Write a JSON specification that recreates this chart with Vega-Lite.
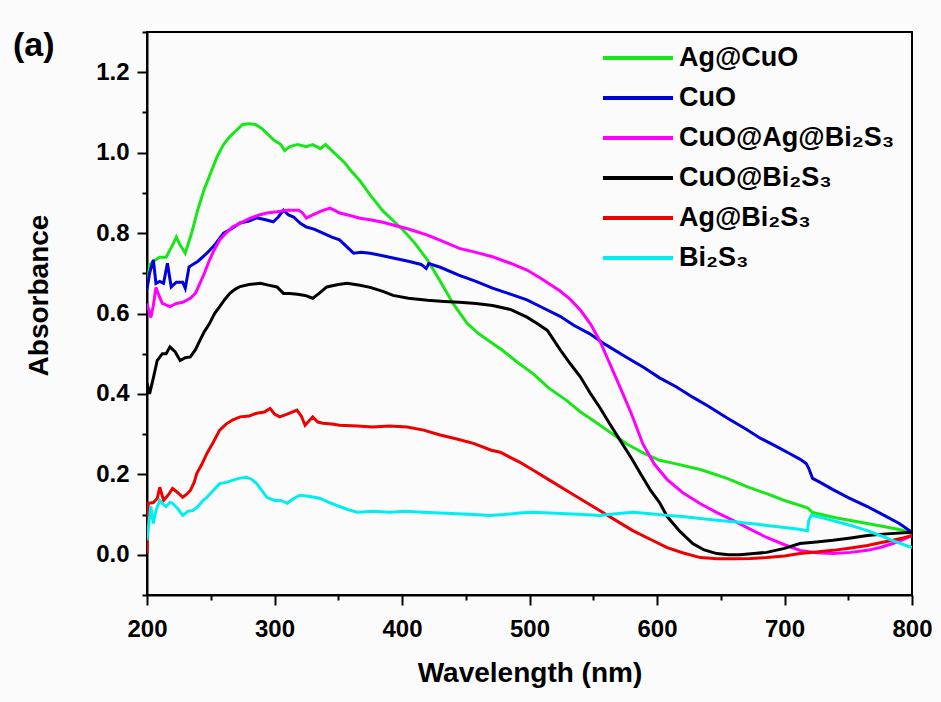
{
  "$schema": "https://vega.github.io/schema/vega-lite/v6.json",
  "width": 765,
  "height": 563,
  "autosize": {"type": "none"},
  "padding": {"left": 147, "top": 32, "right": 29, "bottom": 107},
  "background": "#fbfbfb",
  "title": {"text": "(a)", "anchor": "start", "frame": "group", "fontSize": 34, "font": "Liberation Sans", "fontWeight": "bold", "dx": -134, "dy": 59, "offset": 0, "baseline": "alphabetic", "color": "black"},
  "config": {
    "view": {"stroke": "black", "strokeWidth": 2},
    "axis": {"domainColor": "black", "domainWidth": 2, "tickColor": "black", "tickWidth": 2, "labelColor": "black", "titleColor": "black", "labelFont": "Liberation Sans", "titleFont": "Liberation Sans", "labelFontWeight": "bold", "titleFontWeight": "bold", "labelFontSize": 24, "titleFontSize": 28, "grid": false}
  },
  "data": {"values": [
    {"s":"Ag@CuO","w":200,"a":0.66},{"s":"Ag@CuO","w":202,"a":0.72},{"s":"Ag@CuO","w":205,"a":0.73},{"s":"Ag@CuO","w":210,"a":0.74},{"s":"Ag@CuO","w":215,"a":0.74},{"s":"Ag@CuO","w":220,"a":0.77},{"s":"Ag@CuO","w":223,"a":0.79},{"s":"Ag@CuO","w":226,"a":0.77},{"s":"Ag@CuO","w":230,"a":0.75},{"s":"Ag@CuO","w":235,"a":0.80},{"s":"Ag@CuO","w":240,"a":0.86},{"s":"Ag@CuO","w":245,"a":0.91},{"s":"Ag@CuO","w":250,"a":0.95},{"s":"Ag@CuO","w":255,"a":0.99},{"s":"Ag@CuO","w":260,"a":1.02},{"s":"Ag@CuO","w":265,"a":1.04},{"s":"Ag@CuO","w":270,"a":1.055},{"s":"Ag@CuO","w":275,"a":1.07},{"s":"Ag@CuO","w":280,"a":1.072},{"s":"Ag@CuO","w":285,"a":1.07},{"s":"Ag@CuO","w":290,"a":1.06},{"s":"Ag@CuO","w":295,"a":1.045},{"s":"Ag@CuO","w":300,"a":1.03},{"s":"Ag@CuO","w":305,"a":1.02},{"s":"Ag@CuO","w":308,"a":1.005},{"s":"Ag@CuO","w":312,"a":1.015},{"s":"Ag@CuO","w":318,"a":1.02},{"s":"Ag@CuO","w":325,"a":1.015},{"s":"Ag@CuO","w":330,"a":1.02},{"s":"Ag@CuO","w":336,"a":1.01},{"s":"Ag@CuO","w":340,"a":1.02},{"s":"Ag@CuO","w":345,"a":1.005},{"s":"Ag@CuO","w":350,"a":0.99},{"s":"Ag@CuO","w":355,"a":0.975},{"s":"Ag@CuO","w":360,"a":0.955},{"s":"Ag@CuO","w":367,"a":0.93},{"s":"Ag@CuO","w":375,"a":0.895},{"s":"Ag@CuO","w":385,"a":0.855},{"s":"Ag@CuO","w":395,"a":0.825},{"s":"Ag@CuO","w":401,"a":0.807},{"s":"Ag@CuO","w":410,"a":0.775},{"s":"Ag@CuO","w":420,"a":0.733},{"s":"Ag@CuO","w":430,"a":0.68},{"s":"Ag@CuO","w":440,"a":0.625},{"s":"Ag@CuO","w":451,"a":0.576},{"s":"Ag@CuO","w":460,"a":0.55},{"s":"Ag@CuO","w":470,"a":0.528},{"s":"Ag@CuO","w":479,"a":0.508},{"s":"Ag@CuO","w":490,"a":0.48},{"s":"Ag@CuO","w":503,"a":0.45},{"s":"Ag@CuO","w":515,"a":0.415},{"s":"Ag@CuO","w":529,"a":0.384},{"s":"Ag@CuO","w":540,"a":0.355},{"s":"Ag@CuO","w":550,"a":0.334},{"s":"Ag@CuO","w":563,"a":0.305},{"s":"Ag@CuO","w":576,"a":0.276},{"s":"Ag@CuO","w":590,"a":0.252},{"s":"Ag@CuO","w":602,"a":0.235},{"s":"Ag@CuO","w":615,"a":0.226},{"s":"Ag@CuO","w":634,"a":0.212},{"s":"Ag@CuO","w":655,"a":0.19},{"s":"Ag@CuO","w":670,"a":0.17},{"s":"Ag@CuO","w":686,"a":0.152},{"s":"Ag@CuO","w":700,"a":0.135},{"s":"Ag@CuO","w":718,"a":0.117},{"s":"Ag@CuO","w":722,"a":0.105},{"s":"Ag@CuO","w":740,"a":0.092},{"s":"Ag@CuO","w":765,"a":0.078},{"s":"Ag@CuO","w":785,"a":0.066},{"s":"Ag@CuO","w":800,"a":0.056},

    {"s":"CuO","w":200,"a":0.66},{"s":"CuO","w":202,"a":0.70},{"s":"CuO","w":205,"a":0.733},{"s":"CuO","w":207,"a":0.675},{"s":"CuO","w":210,"a":0.68},{"s":"CuO","w":213,"a":0.675},{"s":"CuO","w":216,"a":0.725},{"s":"CuO","w":219,"a":0.666},{"s":"CuO","w":223,"a":0.678},{"s":"CuO","w":228,"a":0.678},{"s":"CuO","w":230,"a":0.663},{"s":"CuO","w":233,"a":0.716},{"s":"CuO","w":240,"a":0.73},{"s":"CuO","w":247,"a":0.75},{"s":"CuO","w":253,"a":0.77},{"s":"CuO","w":260,"a":0.80},{"s":"CuO","w":266,"a":0.81},{"s":"CuO","w":273,"a":0.825},{"s":"CuO","w":280,"a":0.83},{"s":"CuO","w":286,"a":0.838},{"s":"CuO","w":293,"a":0.833},{"s":"CuO","w":299,"a":0.828},{"s":"CuO","w":303,"a":0.84},{"s":"CuO","w":307,"a":0.857},{"s":"CuO","w":311,"a":0.845},{"s":"CuO","w":315,"a":0.84},{"s":"CuO","w":320,"a":0.825},{"s":"CuO","w":325,"a":0.815},{"s":"CuO","w":331,"a":0.81},{"s":"CuO","w":338,"a":0.80},{"s":"CuO","w":345,"a":0.79},{"s":"CuO","w":351,"a":0.783},{"s":"CuO","w":357,"a":0.765},{"s":"CuO","w":362,"a":0.75},{"s":"CuO","w":368,"a":0.752},{"s":"CuO","w":375,"a":0.75},{"s":"CuO","w":383,"a":0.745},{"s":"CuO","w":393,"a":0.738},{"s":"CuO","w":405,"a":0.73},{"s":"CuO","w":415,"a":0.722},{"s":"CuO","w":419,"a":0.712},{"s":"CuO","w":421,"a":0.724},{"s":"CuO","w":430,"a":0.715},{"s":"CuO","w":445,"a":0.695},{"s":"CuO","w":458,"a":0.68},{"s":"CuO","w":471,"a":0.663},{"s":"CuO","w":485,"a":0.648},{"s":"CuO","w":498,"a":0.634},{"s":"CuO","w":510,"a":0.615},{"s":"CuO","w":524,"a":0.593},{"s":"CuO","w":535,"a":0.57},{"s":"CuO","w":547,"a":0.55},{"s":"CuO","w":560,"a":0.522},{"s":"CuO","w":576,"a":0.491},{"s":"CuO","w":590,"a":0.465},{"s":"CuO","w":602,"a":0.44},{"s":"CuO","w":615,"a":0.418},{"s":"CuO","w":628,"a":0.392},{"s":"CuO","w":640,"a":0.37},{"s":"CuO","w":655,"a":0.34},{"s":"CuO","w":670,"a":0.312},{"s":"CuO","w":681,"a":0.29},{"s":"CuO","w":695,"a":0.267},{"s":"CuO","w":705,"a":0.25},{"s":"CuO","w":712,"a":0.238},{"s":"CuO","w":717,"a":0.227},{"s":"CuO","w":719,"a":0.215},{"s":"CuO","w":722,"a":0.19},{"s":"CuO","w":728,"a":0.18},{"s":"CuO","w":738,"a":0.162},{"s":"CuO","w":750,"a":0.142},{"s":"CuO","w":765,"a":0.12},{"s":"CuO","w":780,"a":0.095},{"s":"CuO","w":790,"a":0.078},{"s":"CuO","w":800,"a":0.056},

    {"s":"CuO@Ag@Bi₂S₃","w":200,"a":0.625},{"s":"CuO@Ag@Bi₂S₃","w":203,"a":0.59},{"s":"CuO@Ag@Bi₂S₃","w":205,"a":0.62},{"s":"CuO@Ag@Bi₂S₃","w":207,"a":0.665},{"s":"CuO@Ag@Bi₂S₃","w":210,"a":0.64},{"s":"CuO@Ag@Bi₂S₃","w":212,"a":0.625},{"s":"CuO@Ag@Bi₂S₃","w":218,"a":0.617},{"s":"CuO@Ag@Bi₂S₃","w":223,"a":0.625},{"s":"CuO@Ag@Bi₂S₃","w":228,"a":0.628},{"s":"CuO@Ag@Bi₂S₃","w":234,"a":0.638},{"s":"CuO@Ag@Bi₂S₃","w":238,"a":0.65},{"s":"CuO@Ag@Bi₂S₃","w":241.5,"a":0.675},{"s":"CuO@Ag@Bi₂S₃","w":245,"a":0.70},{"s":"CuO@Ag@Bi₂S₃","w":249,"a":0.733},{"s":"CuO@Ag@Bi₂S₃","w":253,"a":0.76},{"s":"CuO@Ag@Bi₂S₃","w":257,"a":0.783},{"s":"CuO@Ag@Bi₂S₃","w":262,"a":0.80},{"s":"CuO@Ag@Bi₂S₃","w":267,"a":0.815},{"s":"CuO@Ag@Bi₂S₃","w":274,"a":0.826},{"s":"CuO@Ag@Bi₂S₃","w":281,"a":0.837},{"s":"CuO@Ag@Bi₂S₃","w":288,"a":0.845},{"s":"CuO@Ag@Bi₂S₃","w":294,"a":0.85},{"s":"CuO@Ag@Bi₂S₃","w":302,"a":0.853},{"s":"CuO@Ag@Bi₂S₃","w":310,"a":0.857},{"s":"CuO@Ag@Bi₂S₃","w":319,"a":0.857},{"s":"CuO@Ag@Bi₂S₃","w":322,"a":0.85},{"s":"CuO@Ag@Bi₂S₃","w":325,"a":0.837},{"s":"CuO@Ag@Bi₂S₃","w":330,"a":0.845},{"s":"CuO@Ag@Bi₂S₃","w":337,"a":0.855},{"s":"CuO@Ag@Bi₂S₃","w":343.5,"a":0.862},{"s":"CuO@Ag@Bi₂S₃","w":348,"a":0.855},{"s":"CuO@Ag@Bi₂S₃","w":351,"a":0.85},{"s":"CuO@Ag@Bi₂S₃","w":360,"a":0.843},{"s":"CuO@Ag@Bi₂S₃","w":367,"a":0.837},{"s":"CuO@Ag@Bi₂S₃","w":375,"a":0.833},{"s":"CuO@Ag@Bi₂S₃","w":385,"a":0.827},{"s":"CuO@Ag@Bi₂S₃","w":393,"a":0.82},{"s":"CuO@Ag@Bi₂S₃","w":405,"a":0.81},{"s":"CuO@Ag@Bi₂S₃","w":420,"a":0.795},{"s":"CuO@Ag@Bi₂S₃","w":433,"a":0.778},{"s":"CuO@Ag@Bi₂S₃","w":445,"a":0.762},{"s":"CuO@Ag@Bi₂S₃","w":458,"a":0.752},{"s":"CuO@Ag@Bi₂S₃","w":471,"a":0.741},{"s":"CuO@Ag@Bi₂S₃","w":485,"a":0.725},{"s":"CuO@Ag@Bi₂S₃","w":498,"a":0.708},{"s":"CuO@Ag@Bi₂S₃","w":510,"a":0.685},{"s":"CuO@Ag@Bi₂S₃","w":524,"a":0.656},{"s":"CuO@Ag@Bi₂S₃","w":532,"a":0.635},{"s":"CuO@Ag@Bi₂S₃","w":540,"a":0.608},{"s":"CuO@Ag@Bi₂S₃","w":548,"a":0.573},{"s":"CuO@Ag@Bi₂S₃","w":555,"a":0.533},{"s":"CuO@Ag@Bi₂S₃","w":563,"a":0.475},{"s":"CuO@Ag@Bi₂S₃","w":571,"a":0.417},{"s":"CuO@Ag@Bi₂S₃","w":580,"a":0.35},{"s":"CuO@Ag@Bi₂S₃","w":589,"a":0.275},{"s":"CuO@Ag@Bi₂S₃","w":598,"a":0.225},{"s":"CuO@Ag@Bi₂S₃","w":608,"a":0.187},{"s":"CuO@Ag@Bi₂S₃","w":620,"a":0.155},{"s":"CuO@Ag@Bi₂S₃","w":634,"a":0.127},{"s":"CuO@Ag@Bi₂S₃","w":647,"a":0.105},{"s":"CuO@Ag@Bi₂S₃","w":660,"a":0.085},{"s":"CuO@Ag@Bi₂S₃","w":673,"a":0.064},{"s":"CuO@Ag@Bi₂S₃","w":686,"a":0.043},{"s":"CuO@Ag@Bi₂S₃","w":700,"a":0.025},{"s":"CuO@Ag@Bi₂S₃","w":712,"a":0.011},{"s":"CuO@Ag@Bi₂S₃","w":725,"a":0.005},{"s":"CuO@Ag@Bi₂S₃","w":738,"a":0.003},{"s":"CuO@Ag@Bi₂S₃","w":752,"a":0.006},{"s":"CuO@Ag@Bi₂S₃","w":765,"a":0.011},{"s":"CuO@Ag@Bi₂S₃","w":775,"a":0.018},{"s":"CuO@Ag@Bi₂S₃","w":785,"a":0.028},{"s":"CuO@Ag@Bi₂S₃","w":793,"a":0.038},{"s":"CuO@Ag@Bi₂S₃","w":800,"a":0.048},

    {"s":"CuO@Bi₂S₃","w":200,"a":0.427},{"s":"CuO@Bi₂S₃","w":202,"a":0.40},{"s":"CuO@Bi₂S₃","w":205,"a":0.44},{"s":"CuO@Bi₂S₃","w":208,"a":0.483},{"s":"CuO@Bi₂S₃","w":212,"a":0.50},{"s":"CuO@Bi₂S₃","w":215,"a":0.50},{"s":"CuO@Bi₂S₃","w":218,"a":0.517},{"s":"CuO@Bi₂S₃","w":222,"a":0.505},{"s":"CuO@Bi₂S₃","w":226,"a":0.483},{"s":"CuO@Bi₂S₃","w":230,"a":0.49},{"s":"CuO@Bi₂S₃","w":234,"a":0.492},{"s":"CuO@Bi₂S₃","w":238,"a":0.51},{"s":"CuO@Bi₂S₃","w":241.5,"a":0.533},{"s":"CuO@Bi₂S₃","w":245,"a":0.555},{"s":"CuO@Bi₂S₃","w":249,"a":0.575},{"s":"CuO@Bi₂S₃","w":253,"a":0.60},{"s":"CuO@Bi₂S₃","w":257,"a":0.617},{"s":"CuO@Bi₂S₃","w":261,"a":0.635},{"s":"CuO@Bi₂S₃","w":265,"a":0.65},{"s":"CuO@Bi₂S₃","w":269,"a":0.66},{"s":"CuO@Bi₂S₃","w":273,"a":0.667},{"s":"CuO@Bi₂S₃","w":280,"a":0.672},{"s":"CuO@Bi₂S₃","w":289,"a":0.675},{"s":"CuO@Bi₂S₃","w":296,"a":0.67},{"s":"CuO@Bi₂S₃","w":302,"a":0.666},{"s":"CuO@Bi₂S₃","w":307,"a":0.65},{"s":"CuO@Bi₂S₃","w":312,"a":0.65},{"s":"CuO@Bi₂S₃","w":318,"a":0.648},{"s":"CuO@Bi₂S₃","w":324,"a":0.645},{"s":"CuO@Bi₂S₃","w":330,"a":0.638},{"s":"CuO@Bi₂S₃","w":335,"a":0.65},{"s":"CuO@Bi₂S₃","w":341,"a":0.666},{"s":"CuO@Bi₂S₃","w":350,"a":0.672},{"s":"CuO@Bi₂S₃","w":357,"a":0.675},{"s":"CuO@Bi₂S₃","w":367,"a":0.67},{"s":"CuO@Bi₂S₃","w":375,"a":0.665},{"s":"CuO@Bi₂S₃","w":385,"a":0.655},{"s":"CuO@Bi₂S₃","w":393,"a":0.645},{"s":"CuO@Bi₂S₃","w":405,"a":0.638},{"s":"CuO@Bi₂S₃","w":420,"a":0.633},{"s":"CuO@Bi₂S₃","w":433,"a":0.63},{"s":"CuO@Bi₂S₃","w":445,"a":0.628},{"s":"CuO@Bi₂S₃","w":458,"a":0.625},{"s":"CuO@Bi₂S₃","w":471,"a":0.62},{"s":"CuO@Bi₂S₃","w":485,"a":0.61},{"s":"CuO@Bi₂S₃","w":498,"a":0.591},{"s":"CuO@Bi₂S₃","w":506,"a":0.575},{"s":"CuO@Bi₂S₃","w":514,"a":0.558},{"s":"CuO@Bi₂S₃","w":524,"a":0.51},{"s":"CuO@Bi₂S₃","w":532,"a":0.475},{"s":"CuO@Bi₂S₃","w":540,"a":0.442},{"s":"CuO@Bi₂S₃","w":548,"a":0.40},{"s":"CuO@Bi₂S₃","w":555,"a":0.367},{"s":"CuO@Bi₂S₃","w":563,"a":0.325},{"s":"CuO@Bi₂S₃","w":571,"a":0.285},{"s":"CuO@Bi₂S₃","w":580,"a":0.24},{"s":"CuO@Bi₂S₃","w":587,"a":0.202},{"s":"CuO@Bi₂S₃","w":595,"a":0.16},{"s":"CuO@Bi₂S₃","w":602,"a":0.13},{"s":"CuO@Bi₂S₃","w":608,"a":0.095},{"s":"CuO@Bi₂S₃","w":618,"a":0.058},{"s":"CuO@Bi₂S₃","w":628,"a":0.028},{"s":"CuO@Bi₂S₃","w":637,"a":0.012},{"s":"CuO@Bi₂S₃","w":647,"a":0.003},{"s":"CuO@Bi₂S₃","w":656,"a":0.0},{"s":"CuO@Bi₂S₃","w":665,"a":0.0},{"s":"CuO@Bi₂S₃","w":676,"a":0.003},{"s":"CuO@Bi₂S₃","w":686,"a":0.006},{"s":"CuO@Bi₂S₃","w":700,"a":0.016},{"s":"CuO@Bi₂S₃","w":712,"a":0.028},{"s":"CuO@Bi₂S₃","w":725,"a":0.032},{"s":"CuO@Bi₂S₃","w":738,"a":0.036},{"s":"CuO@Bi₂S₃","w":752,"a":0.042},{"s":"CuO@Bi₂S₃","w":765,"a":0.048},{"s":"CuO@Bi₂S₃","w":780,"a":0.052},{"s":"CuO@Bi₂S₃","w":800,"a":0.056},

    {"s":"Ag@Bi₂S₃","w":200,"a":0.003},{"s":"Ag@Bi₂S₃","w":201,"a":0.128},{"s":"Ag@Bi₂S₃","w":205,"a":0.13},{"s":"Ag@Bi₂S₃","w":208,"a":0.14},{"s":"Ag@Bi₂S₃","w":210,"a":0.168},{"s":"Ag@Bi₂S₃","w":213,"a":0.135},{"s":"Ag@Bi₂S₃","w":217,"a":0.15},{"s":"Ag@Bi₂S₃","w":220,"a":0.165},{"s":"Ag@Bi₂S₃","w":224,"a":0.155},{"s":"Ag@Bi₂S₃","w":228,"a":0.143},{"s":"Ag@Bi₂S₃","w":231,"a":0.15},{"s":"Ag@Bi₂S₃","w":234,"a":0.16},{"s":"Ag@Bi₂S₃","w":237,"a":0.18},{"s":"Ag@Bi₂S₃","w":239,"a":0.202},{"s":"Ag@Bi₂S₃","w":243,"a":0.225},{"s":"Ag@Bi₂S₃","w":247,"a":0.252},{"s":"Ag@Bi₂S₃","w":252,"a":0.28},{"s":"Ag@Bi₂S₃","w":257,"a":0.31},{"s":"Ag@Bi₂S₃","w":262,"a":0.325},{"s":"Ag@Bi₂S₃","w":267,"a":0.335},{"s":"Ag@Bi₂S₃","w":273,"a":0.343},{"s":"Ag@Bi₂S₃","w":280,"a":0.345},{"s":"Ag@Bi₂S₃","w":286,"a":0.352},{"s":"Ag@Bi₂S₃","w":292,"a":0.355},{"s":"Ag@Bi₂S₃","w":296.5,"a":0.364},{"s":"Ag@Bi₂S₃","w":300,"a":0.35},{"s":"Ag@Bi₂S₃","w":304,"a":0.343},{"s":"Ag@Bi₂S₃","w":310,"a":0.35},{"s":"Ag@Bi₂S₃","w":317.6,"a":0.36},{"s":"Ag@Bi₂S₃","w":321,"a":0.345},{"s":"Ag@Bi₂S₃","w":324,"a":0.322},{"s":"Ag@Bi₂S₃","w":330,"a":0.343},{"s":"Ag@Bi₂S₃","w":334,"a":0.33},{"s":"Ag@Bi₂S₃","w":338,"a":0.327},{"s":"Ag@Bi₂S₃","w":345,"a":0.325},{"s":"Ag@Bi₂S₃","w":351,"a":0.322},{"s":"Ag@Bi₂S₃","w":365,"a":0.32},{"s":"Ag@Bi₂S₃","w":377,"a":0.318},{"s":"Ag@Bi₂S₃","w":390,"a":0.32},{"s":"Ag@Bi₂S₃","w":404,"a":0.318},{"s":"Ag@Bi₂S₃","w":417,"a":0.31},{"s":"Ag@Bi₂S₃","w":430,"a":0.298},{"s":"Ag@Bi₂S₃","w":443,"a":0.288},{"s":"Ag@Bi₂S₃","w":456,"a":0.277},{"s":"Ag@Bi₂S₃","w":470,"a":0.26},{"s":"Ag@Bi₂S₃","w":477,"a":0.255},{"s":"Ag@Bi₂S₃","w":492.5,"a":0.23},{"s":"Ag@Bi₂S₃","w":503,"a":0.21},{"s":"Ag@Bi₂S₃","w":516,"a":0.185},{"s":"Ag@Bi₂S₃","w":529,"a":0.16},{"s":"Ag@Bi₂S₃","w":542,"a":0.135},{"s":"Ag@Bi₂S₃","w":555,"a":0.11},{"s":"Ag@Bi₂S₃","w":568,"a":0.085},{"s":"Ag@Bi₂S₃","w":581,"a":0.06},{"s":"Ag@Bi₂S₃","w":595,"a":0.038},{"s":"Ag@Bi₂S₃","w":608,"a":0.018},{"s":"Ag@Bi₂S₃","w":620,"a":0.005},{"s":"Ag@Bi₂S₃","w":634,"a":-0.007},{"s":"Ag@Bi₂S₃","w":647,"a":-0.01},{"s":"Ag@Bi₂S₃","w":660,"a":-0.01},{"s":"Ag@Bi₂S₃","w":673,"a":-0.009},{"s":"Ag@Bi₂S₃","w":686,"a":-0.007},{"s":"Ag@Bi₂S₃","w":700,"a":-0.003},{"s":"Ag@Bi₂S₃","w":712,"a":0.003},{"s":"Ag@Bi₂S₃","w":725,"a":0.007},{"s":"Ag@Bi₂S₃","w":738,"a":0.011},{"s":"Ag@Bi₂S₃","w":752,"a":0.017},{"s":"Ag@Bi₂S₃","w":765,"a":0.023},{"s":"Ag@Bi₂S₃","w":775,"a":0.03},{"s":"Ag@Bi₂S₃","w":785,"a":0.036},{"s":"Ag@Bi₂S₃","w":793,"a":0.042},{"s":"Ag@Bi₂S₃","w":800,"a":0.048},

    {"s":"Bi₂S₃","w":200,"a":0.036},{"s":"Bi₂S₃","w":203,"a":0.12},{"s":"Bi₂S₃","w":205,"a":0.078},{"s":"Bi₂S₃","w":207,"a":0.11},{"s":"Bi₂S₃","w":210,"a":0.135},{"s":"Bi₂S₃","w":213,"a":0.125},{"s":"Bi₂S₃","w":215,"a":0.12},{"s":"Bi₂S₃","w":218,"a":0.13},{"s":"Bi₂S₃","w":220,"a":0.128},{"s":"Bi₂S₃","w":224,"a":0.115},{"s":"Bi₂S₃","w":228,"a":0.098},{"s":"Bi₂S₃","w":232,"a":0.108},{"s":"Bi₂S₃","w":236,"a":0.11},{"s":"Bi₂S₃","w":240,"a":0.12},{"s":"Bi₂S₃","w":244,"a":0.135},{"s":"Bi₂S₃","w":247,"a":0.143},{"s":"Bi₂S₃","w":252,"a":0.16},{"s":"Bi₂S₃","w":257,"a":0.177},{"s":"Bi₂S₃","w":262,"a":0.18},{"s":"Bi₂S₃","w":267,"a":0.185},{"s":"Bi₂S₃","w":272,"a":0.19},{"s":"Bi₂S₃","w":278,"a":0.193},{"s":"Bi₂S₃","w":282,"a":0.188},{"s":"Bi₂S₃","w":286,"a":0.177},{"s":"Bi₂S₃","w":290,"a":0.16},{"s":"Bi₂S₃","w":294,"a":0.143},{"s":"Bi₂S₃","w":300,"a":0.135},{"s":"Bi₂S₃","w":305,"a":0.135},{"s":"Bi₂S₃","w":310,"a":0.128},{"s":"Bi₂S₃","w":315,"a":0.14},{"s":"Bi₂S₃","w":320,"a":0.148},{"s":"Bi₂S₃","w":328,"a":0.145},{"s":"Bi₂S₃","w":336,"a":0.14},{"s":"Bi₂S₃","w":343,"a":0.13},{"s":"Bi₂S₃","w":351,"a":0.12},{"s":"Bi₂S₃","w":358,"a":0.112},{"s":"Bi₂S₃","w":365,"a":0.106},{"s":"Bi₂S₃","w":378,"a":0.108},{"s":"Bi₂S₃","w":390,"a":0.106},{"s":"Bi₂S₃","w":403,"a":0.108},{"s":"Bi₂S₃","w":416,"a":0.106},{"s":"Bi₂S₃","w":430,"a":0.104},{"s":"Bi₂S₃","w":443,"a":0.102},{"s":"Bi₂S₃","w":456,"a":0.1},{"s":"Bi₂S₃","w":469,"a":0.098},{"s":"Bi₂S₃","w":480,"a":0.1},{"s":"Bi₂S₃","w":492,"a":0.104},{"s":"Bi₂S₃","w":503,"a":0.106},{"s":"Bi₂S₃","w":516,"a":0.104},{"s":"Bi₂S₃","w":529,"a":0.102},{"s":"Bi₂S₃","w":542,"a":0.1},{"s":"Bi₂S₃","w":555,"a":0.098},{"s":"Bi₂S₃","w":568,"a":0.102},{"s":"Bi₂S₃","w":581,"a":0.106},{"s":"Bi₂S₃","w":595,"a":0.102},{"s":"Bi₂S₃","w":608,"a":0.098},{"s":"Bi₂S₃","w":620,"a":0.095},{"s":"Bi₂S₃","w":634,"a":0.09},{"s":"Bi₂S₃","w":647,"a":0.086},{"s":"Bi₂S₃","w":660,"a":0.082},{"s":"Bi₂S₃","w":673,"a":0.078},{"s":"Bi₂S₃","w":686,"a":0.073},{"s":"Bi₂S₃","w":700,"a":0.068},{"s":"Bi₂S₃","w":710,"a":0.064},{"s":"Bi₂S₃","w":718,"a":0.06},{"s":"Bi₂S₃","w":719,"a":0.085},{"s":"Bi₂S₃","w":721,"a":0.098},{"s":"Bi₂S₃","w":730,"a":0.092},{"s":"Bi₂S₃","w":738,"a":0.085},{"s":"Bi₂S₃","w":752,"a":0.073},{"s":"Bi₂S₃","w":765,"a":0.06},{"s":"Bi₂S₃","w":775,"a":0.048},{"s":"Bi₂S₃","w":785,"a":0.035},{"s":"Bi₂S₃","w":793,"a":0.026},{"s":"Bi₂S₃","w":800,"a":0.018}
  ]},
  "mark": {"type": "line", "strokeWidth": 3, "clip": true},
  "encoding": {
    "x": {"field": "w", "type": "quantitative", "title": "Wavelength (nm)",
      "scale": {"domain": [200, 800], "nice": false, "zero": false},
      "axis": {"values": [200,250,300,350,400,450,500,550,600,650,700,750,800],
        "labelExpr": "datum.value % 100 === 0 ? datum.label : ''",
        "tickSize": {"condition": {"test": "datum.value % 100 === 0", "value": 10}, "value": 5},
        "labelPadding": 12, "titlePadding": 18, "labelFlush": false}},
    "y": {"field": "a", "type": "quantitative", "title": "Absorbance",
      "scale": {"domain": [-0.1, 1.3], "nice": false, "zero": false},
      "axis": {"values": [-0.1,0,0.1,0.2,0.3,0.4,0.5,0.6,0.7,0.8,0.9,1.0,1.1,1.2,1.3],
        "labelExpr": "abs(round(datum.value*10)) % 2 === 0 ? format(datum.value, '.1f') : ''",
        "tickSize": {"condition": {"test": "abs(round(datum.value*10)) % 2 === 0", "value": 10}, "value": 5},
        "labelPadding": 8, "titlePadding": 42, "titleY": 263, "labelFlush": false}},
    "color": {"field": "s", "type": "nominal",
      "sort": ["Ag@CuO", "CuO", "CuO@Ag@Bi₂S₃", "CuO@Bi₂S₃", "Ag@Bi₂S₃", "Bi₂S₃"],
      "scale": {"domain": ["Ag@CuO", "CuO", "CuO@Ag@Bi₂S₃", "CuO@Bi₂S₃", "Ag@Bi₂S₃", "Bi₂S₃"],
        "range": ["#19e619", "#0000dd", "#ff00ff", "#000000", "#ee0000", "#00eeee"]},
      "legend": {"orient": "none", "legendX": 454, "legendY": 11, "title": null,
        "symbolType": "stroke", "symbolSize": 4900, "symbolStrokeWidth": 4, "clipHeight": 30,
        "rowPadding": 10, "labelFontSize": 27, "labelFont": "Liberation Sans", "labelFontWeight": "bold",
        "labelColor": "black", "labelOffset": 4, "padding": 0, "labelLimit": 400}}
  }
}
